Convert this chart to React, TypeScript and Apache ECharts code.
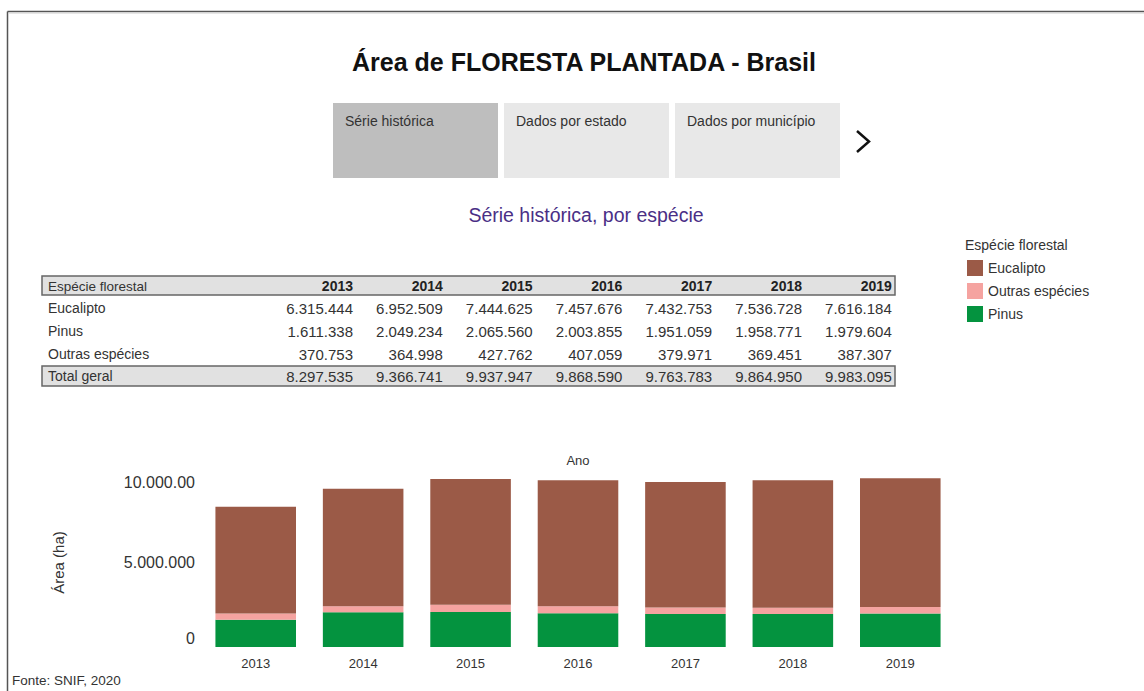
import { useEffect, useRef } from "react";
import * as echarts from "echarts";

const years = ["2013", "2014", "2015", "2016", "2017", "2018", "2019"];
const eucalipto = [6315444, 6952509, 7444625, 7457676, 7432753, 7536728, 7616184];
const pinus = [1611338, 2049234, 2065560, 2003855, 1951059, 1958771, 1979604];
const outras = [370753, 364998, 427762, 407059, 379971, 369451, 387307];
const totals = [8297535, 9366741, 9937947, 9868590, 9763783, 9864950, 9983095];
const yTickLabels: Record<string, string> = { "0": "0", "5000000": "5.000.000", "10000000": "10.000.00" };
const tabs = ["Série histórica", "Dados por estado", "Dados por município"];

const COLORS = { euc: "#9b5a47", out: "#f5a3a0", pin: "#04933f" };
const FONT = "'Liberation Sans', Arial, sans-serif";

const fmt = (v: number) => String(v).replace(/\B(?=(\d{3})+(?!\d))/g, ".");

export default function App() {
  const ref = useRef<HTMLDivElement>(null);
  useEffect(() => {
    if (!ref.current) return;
    const chart = echarts.init(ref.current, null, { renderer: "svg" });

    const graphics: any[] = [];
    // outer frame
    graphics.push({ type: "line", shape: { x1: 7.5, y1: 11.5, x2: 1144, y2: 11.5 }, style: { stroke: "#555", lineWidth: 1.5 } });
    graphics.push({ type: "line", shape: { x1: 7.5, y1: 11.5, x2: 7.5, y2: 691 }, style: { stroke: "#555", lineWidth: 1.5 } });
    graphics.push({ type: "line", shape: { x1: 9, y1: 13.5, x2: 1144, y2: 13.5 }, style: { stroke: "#e6e6e6", lineWidth: 1 } });
    // title
    graphics.push({ type: "text", x: 584, y: 62, style: { text: "Área de FLORESTA PLANTADA - Brasil", font: `bold 25px ${FONT}`, fill: "#111", align: "center", verticalAlign: "middle" } });
    // tabs
    tabs.forEach((t, i) => {
      const x = 333 + i * 171;
      graphics.push({ type: "rect", shape: { x, y: 103, width: 165, height: 75 }, style: { fill: i === 0 ? "#bebebe" : "#e8e8e8" } });
      graphics.push({ type: "text", x: x + 12, y: 121, style: { text: t, font: `14px ${FONT}`, fill: "#333", verticalAlign: "middle" } });
    });
    graphics.push({ type: "polyline", shape: { points: [[857, 131], [869, 141.5], [857, 152]] }, style: { stroke: "#111", lineWidth: 2.5, fill: null } });
    // subtitle
    graphics.push({ type: "text", x: 586, y: 215, style: { text: "Série histórica, por espécie", font: `19.5px ${FONT}`, fill: "#4a2f86", align: "center", verticalAlign: "middle" } });
    // table
    graphics.push({ type: "rect", shape: { x: 42, y: 276, width: 853, height: 19 }, style: { fill: "#e1e1e1", stroke: "#666", lineWidth: 1.5 } });
    graphics.push({ type: "rect", shape: { x: 42, y: 366, width: 853, height: 20 }, style: { fill: "#e1e1e1", stroke: "#666", lineWidth: 1.5 } });
    const colRight = (i: number) => 353 + i * 89.8;
    graphics.push({ type: "text", x: 48, y: 286, style: { text: "Espécie florestal", font: `13.5px ${FONT}`, fill: "#333", verticalAlign: "middle" } });
    years.forEach((y, i) => {
      graphics.push({ type: "text", x: colRight(i), y: 286, style: { text: y, font: `bold 14px ${FONT}`, fill: "#222", align: "right", verticalAlign: "middle" } });
    });
    const rows: [string, number[], number][] = [
      ["Eucalipto", eucalipto, 308],
      ["Pinus", pinus, 331],
      ["Outras espécies", outras, 354],
      ["Total geral", totals, 376],
    ];
    rows.forEach(([label, vals, yy]) => {
      graphics.push({ type: "text", x: 48, y: yy, style: { text: label, font: `14px ${FONT}`, fill: "#333", verticalAlign: "middle" } });
      vals.forEach((v, i) => {
        graphics.push({ type: "text", x: colRight(i), y: yy, style: { text: fmt(v), font: `15px ${FONT}`, fill: "#333", align: "right", verticalAlign: "middle" } });
      });
    });
    // legend title
    graphics.push({ type: "text", x: 965, y: 245, style: { text: "Espécie florestal", font: `14px ${FONT}`, fill: "#333", verticalAlign: "middle" } });
    // axis title "Ano"
    graphics.push({ type: "text", x: 578, y: 460, style: { text: "Ano", font: `13px ${FONT}`, fill: "#333", align: "center", verticalAlign: "middle" } });
    // source
    graphics.push({ type: "text", x: 12, y: 680, style: { text: "Fonte: SNIF, 2020", font: `13.5px ${FONT}`, fill: "#333", verticalAlign: "middle" } });

    const labelRich = {
      lo: { fontSize: 16, color: "#333", fontFamily: FONT, padding: [0, 0, 18, 0] },
      mid: { fontSize: 16, color: "#333", fontFamily: FONT },
      hi: { fontSize: 16, color: "#333", fontFamily: FONT, padding: [8, 0, 0, 0] },
    };

    chart.setOption({
      animation: false,
      backgroundColor: "#ffffff",
      textStyle: { fontFamily: FONT },
      grid: { left: 202, right: 190, top: 478, bottom: 44, containLabel: false },
      legend: {
        data: ["Eucalipto", "Outras espécies", "Pinus"],
        orient: "vertical",
        left: 962,
        top: 255,
        itemWidth: 16,
        itemHeight: 16,
        itemGap: 7,
        icon: "rect",
        textStyle: { fontSize: 14, color: "#333", fontFamily: FONT },
      },
      xAxis: {
        type: "category",
        data: years,
        axisLine: { show: false },
        axisTick: { show: false },
        axisLabel: { fontSize: 13, color: "#333", margin: 10, fontFamily: FONT },
      },
      yAxis: {
        type: "value",
        min: 0,
        max: 10000000,
        interval: 5000000,
        name: "Área (ha)",
        nameLocation: "middle",
        nameRotate: 90,
        nameGap: 136,
        nameTextStyle: { fontSize: 15, color: "#333", fontFamily: FONT },
        axisLine: { show: false },
        axisTick: { show: false },
        splitLine: { show: false },
        axisLabel: {
          fontSize: 16,
          color: "#333",
          margin: 7,
          fontFamily: FONT,
          rich: labelRich,
          formatter: (v: number) => {
            const t = yTickLabels[String(v)] ?? fmt(v);
            const k = v === 0 ? "lo" : v >= 10000000 ? "hi" : "mid";
            return `{${k}|${t}}`;
          },
        },
      },
      series: [
        { name: "Pinus", type: "bar", stack: "a", data: pinus, barCategoryGap: "25%", itemStyle: { color: COLORS.pin } },
        { name: "Outras espécies", type: "bar", stack: "a", data: outras, itemStyle: { color: COLORS.out } },
        { name: "Eucalipto", type: "bar", stack: "a", data: eucalipto, itemStyle: { color: COLORS.euc } },
      ],
      graphic: graphics,
    });
    return () => chart.dispose();
  }, []);
  return <div ref={ref} style={{ position: "absolute", left: 0, top: 0, width: 1144, height: 691 }} />;
}
